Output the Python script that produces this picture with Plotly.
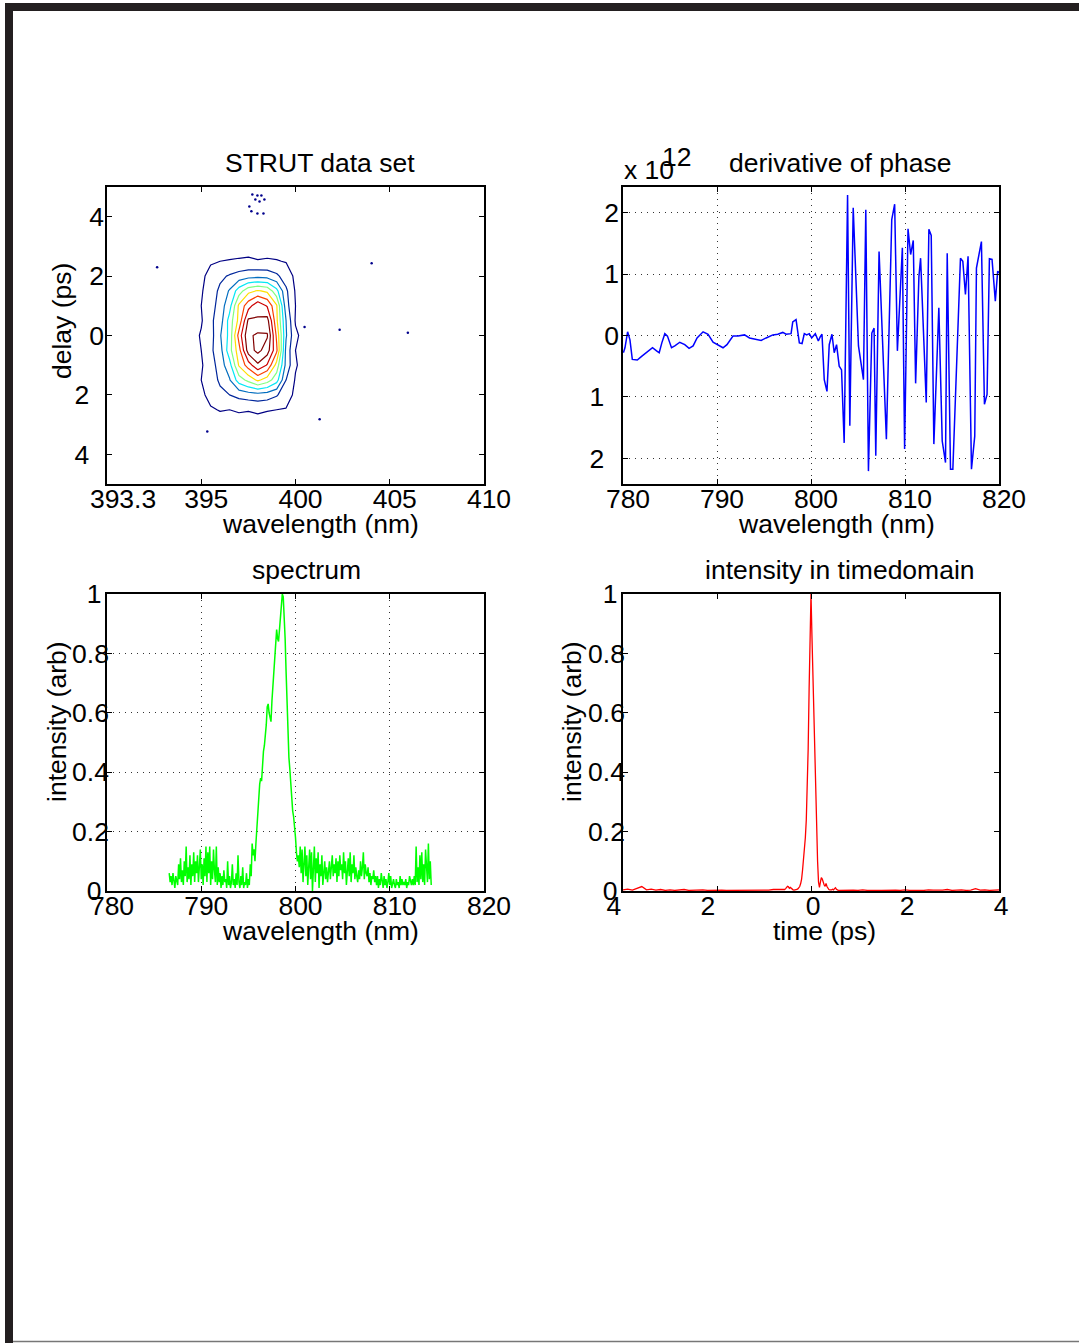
import numpy as np
import plotly.graph_objects as go

W, H = 1079, 1343
FONT = "Liberation Sans, Arial, Helvetica, sans-serif"
FS = 26.5

# ---------------- STRUT trace (contour map) ----------------
strut_wavelength_nm = [394.0, 394.5, 395.0, 395.5, 396.0, 396.5, 397.0, 397.5,
                       398.0, 398.5, 399.0, 399.5, 400.0, 400.5, 401.0]
strut_delay_ps = [3.0, 2.5, 2.0, 1.5, 1.0, 0.5, 0.0, -0.5, -1.0, -1.5, -2.0, -2.5, -3.0]
strut_signal = [
    [0, 0, 0, 0, 0.01, 0.01, 0.01, 0.01, 0.01, 0.01, 0.01, 0, 0, 0, 0],
    [0, 0, 0.01, 0.04, 0.05, 0.055, 0.06, 0.065, 0.055, 0.06, 0.055, 0.045, 0.01, 0, 0],
    [0, 0, 0.03, 0.08, 0.13, 0.16, 0.19, 0.21, 0.22, 0.21, 0.17, 0.10, 0.03, 0, 0],
    [0, 0.01, 0.04, 0.10, 0.17, 0.26, 0.40, 0.52, 0.56, 0.53, 0.38, 0.17, 0.04, 0, 0],
    [0, 0.01, 0.05, 0.10, 0.20, 0.31, 0.57, 0.71, 0.82, 0.74, 0.56, 0.19, 0.05, 0.01, 0],
    [0, 0.02, 0.04, 0.13, 0.20, 0.39, 0.58, 0.87, 0.86, 0.89, 0.57, 0.25, 0.04, 0.01, 0],
    [0, 0.01, 0.06, 0.11, 0.24, 0.38, 0.69, 0.93, 0.97, 0.96, 0.63, 0.26, 0.07, 0.01, 0],
    [0, 0.01, 0.05, 0.13, 0.21, 0.41, 0.61, 0.90, 0.98, 0.90, 0.67, 0.22, 0.05, 0.01, 0],
    [0, 0.02, 0.04, 0.10, 0.20, 0.31, 0.56, 0.70, 0.83, 0.74, 0.51, 0.22, 0.06, 0.01, 0],
    [0, 0.01, 0.05, 0.09, 0.17, 0.24, 0.40, 0.48, 0.57, 0.50, 0.39, 0.15, 0.04, 0, 0],
    [0, 0, 0.03, 0.08, 0.12, 0.15, 0.18, 0.20, 0.21, 0.20, 0.16, 0.09, 0.03, 0, 0],
    [0, 0, 0.01, 0.04, 0.055, 0.05, 0.06, 0.055, 0.065, 0.055, 0.05, 0.045, 0.01, 0, 0],
    [0, 0, 0, 0, 0.01, 0.01, 0.01, 0.01, 0.01, 0.01, 0.01, 0, 0, 0, 0],
]
# isolated noise islands of the lowest contour level
speck_wavelength_nm = [397.71, 397.98, 398.19, 397.87, 398.09, 398.35, 397.66, 397.98,
                       398.30, 397.55, 392.66, 404.04, 401.28, 395.32, 400.48, 402.34, 405.96]
speck_delay_ps = [4.75, 4.71, 4.71, 4.58, 4.51, 4.58, 4.18, 4.11,
                  4.11, 4.34, 2.30, 2.43, -2.82, -3.23, 0.29, 0.19, 0.09]

strut_xticks = [390, 395, 400, 405, 410]
strut_xticktext = ["\u2007\u00a0393.3", "395", "400", "405", "410"]
strut_yticks = [-4, -2, 0, 2, 4]
strut_yticktext = ["4\u2007", "2\u2007", "0", "2", "4"]

# ---------------- derivative of spectral phase ----------------
phase_wavelength_nm = [
    780.04, 780.21, 780.49, 780.74, 780.99, 781.52, 781.98, 782.51, 783.14, 783.57,
    783.85, 784.13, 784.45, 784.73, 785.16, 785.51, 786.04, 786.57, 787.03, 787.46,
    787.88, 788.52, 789.05, 789.58, 790.11, 790.64, 791.06, 791.70, 792.23, 792.93,
    793.46, 794.17, 794.70, 795.23, 795.94, 796.47, 797.00, 797.35, 797.88, 798.06,
    798.41, 798.76, 799.05, 799.29, 799.54, 799.82, 800.07, 800.46, 800.78, 800.99,
    801.17, 801.41, 801.70, 801.94, 802.23, 802.47, 802.72, 803.00, 803.25, 803.53,
    803.89, 804.13, 804.49, 805.05, 805.58, 805.83, 806.11, 806.47, 806.71, 806.89,
    807.24, 808.02, 808.59, 808.90, 809.19, 809.72, 809.96, 810.32, 810.60, 810.88,
    811.13, 811.48, 811.66, 812.26, 812.54, 812.79, 813.07, 813.60, 813.96, 814.31,
    814.49, 814.84, 815.09, 815.90, 816.15, 816.43, 816.71, 817.07, 817.42, 817.60,
    818.13, 818.45, 818.73, 818.98, 819.26, 819.61, 819.86, 820.00,
]
phase_derivative_e12 = [
    -0.28, -0.20, 0.06, -0.07, -0.39, -0.40, -0.34, -0.28, -0.20, -0.25,
    -0.28, -0.12, 0.03, -0.01, -0.20, -0.17, -0.11, -0.15, -0.21, -0.17,
    -0.04, 0.06, 0.02, -0.11, -0.16, -0.20, -0.15, -0.01, -0.01, 0.01,
    -0.04, -0.07, -0.08, -0.04, 0.01, 0.02, 0.05, 0.02, 0.03, 0.22,
    0.26, -0.12, -0.13, 0.03, 0.01, 0.03, -0.04, 0.03, -0.09, -0.02,
    0.02, -0.72, -0.91, -0.15, 0.02, -0.28, -0.15, -0.50, -0.56, -1.75,
    2.29, -1.47, 2.08, -0.17, -0.72, 2.05, -2.21, 0.04, 0.12, -1.96,
    1.37, -1.69, 1.89, 2.14, -0.25, 1.43, -1.85, 1.74, 1.32, 1.55,
    -0.78, 0.96, 1.26, -1.09, 1.73, 1.63, -1.77, 0.45, -1.72, -2.07,
    1.34, -2.18, -2.18, 1.26, 1.21, 0.67, 1.29, -2.18, -1.64, 1.10,
    1.53, -1.12, -0.96, 1.25, 1.24, 0.56, 1.05, 1.02,
]
phase_xticks = [780, 790, 800, 810, 820]
phase_yticks = [-2, -1, 0, 1, 2]
phase_yticktext = ["2\u2007", "1\u2007", "0", "1", "2"]

# ---------------- spectrum (0.1 nm sampling from 786.6 nm) ----------------
spectrum_start_nm = 786.6
spectrum_step_nm = 0.1
spectrum_intensity = [
    0.06, 0.03, 0.05, 0.02, 0.06, 0.04, 0.01, 0.05, 0.03, 0.02,   # 786.6
    0.09, 0.04, 0.11, 0.03, 0.07, 0.02, 0.10, 0.05, 0.15, 0.03,   # 787.6
    0.08, 0.04, 0.12, 0.02, 0.09, 0.05, 0.13, 0.03, 0.10, 0.06,   # 788.6
    0.12, 0.03, 0.08, 0.14, 0.04, 0.09, 0.02, 0.11, 0.05, 0.15,   # 789.6
    0.03, 0.13, 0.06, 0.15, 0.02, 0.10, 0.04, 0.14, 0.07, 0.03,   # 790.6
    0.15, 0.02, 0.08, 0.03, 0.06, 0.01, 0.05, 0.02, 0.07, 0.03,   # 791.6
    0.04, 0.01, 0.10, 0.02, 0.05, 0.01, 0.03, 0.09, 0.02, 0.04,   # 792.6
    0.01, 0.06, 0.02, 0.12, 0.03, 0.01, 0.05, 0.02, 0.08, 0.01,   # 793.6
    0.03, 0.02, 0.06, 0.01, 0.04, 0.02, 0.09, 0.05, 0.16, 0.12,   # 794.6
    0.14, 0.10, 0.16, 0.20, 0.25, 0.31, 0.36, 0.38, 0.37, 0.43,   # 795.6
    0.47, 0.49, 0.52, 0.56, 0.62, 0.63, 0.60, 0.58, 0.57, 0.64,   # 796.6
    0.69, 0.74, 0.79, 0.83, 0.88, 0.85, 0.84, 0.88, 0.93, 0.97,   # 797.6
    1.00, 0.99, 0.93, 0.85, 0.74, 0.62, 0.52, 0.45, 0.41, 0.36,   # 798.6
    0.30, 0.27, 0.25, 0.22, 0.18, 0.13, 0.10, 0.12, 0.08, 0.15,   # 799.6
    0.06, 0.14, 0.03, 0.09, 0.15, 0.05, 0.12, 0.02, 0.10, 0.14,   # 800.6
    0.04, 0.13, 0.00, 0.08, 0.15, 0.03, 0.11, 0.06, 0.13, 0.01,   # 801.6
    0.09, 0.05, 0.12, 0.02, 0.07, 0.10, 0.04, 0.08, 0.03, 0.06,   # 802.6
    0.10, 0.04, 0.08, 0.12, 0.05, 0.09, 0.06, 0.11, 0.03, 0.10,   # 803.6
    0.05, 0.12, 0.07, 0.09, 0.04, 0.13, 0.06, 0.10, 0.02, 0.08,   # 804.6
    0.11, 0.05, 0.13, 0.03, 0.09, 0.06, 0.12, 0.04, 0.08, 0.05,   # 805.6
    0.03, 0.07, 0.04, 0.10, 0.05, 0.08, 0.13, 0.04, 0.09, 0.06,   # 806.6
    0.05, 0.08, 0.03, 0.06, 0.02, 0.05, 0.04, 0.07, 0.03, 0.05,   # 807.6
    0.02, 0.05, 0.01, 0.04, 0.02, 0.06, 0.03, 0.01, 0.05, 0.02,   # 808.6
    0.04, 0.01, 0.03, 0.06, 0.02, 0.05, 0.01, 0.03, 0.04, 0.02,   # 809.6
    0.01, 0.04, 0.02, 0.03, 0.01, 0.05, 0.02, 0.04, 0.02, 0.03,   # 810.6
    0.02, 0.04, 0.01, 0.03, 0.02, 0.05, 0.03, 0.02, 0.04, 0.02,   # 811.6
    0.05, 0.02, 0.15, 0.03, 0.08, 0.02, 0.12, 0.04, 0.13, 0.03,   # 812.6
    0.09, 0.02, 0.14, 0.05, 0.03, 0.16, 0.04, 0.10, 0.02,         # 813.6
]
spectrum_xticks = [780, 790, 800, 810, 820]
intensity_yticks = [0, 0.2, 0.4, 0.6, 0.8, 1]
intensity_yticktext = ["0\u00a0", "0.2", "0.4", "0.6", "0.8", "1\u00a0"]

# ---------------- temporal intensity ----------------
# coarse sampling in the wings, fine sampling across the pulse
time_ps = np.concatenate([np.arange(-40, -6) / 10, np.arange(-30, 31) / 50, np.arange(7, 41) / 10])
time_intensity = [
    0.004, 0.006, 0.003, 0.008, 0.015, 0.004, 0.006, 0.003, 0.005, 0.002,   # -4.0
    0.004, 0.002, 0.003, 0.005, 0.002, 0.003, 0.002, 0.004, 0.002, 0.003,   # -3.0
    0.002, 0.003, 0.002, 0.002, 0.003, 0.002, 0.004, 0.002, 0.003, 0.002,   # -2.0
    0.004, 0.003, 0.005, 0.004,                                             # -1.0
    0.003, 0.004, 0.005, 0.008, 0.012, 0.016, 0.014, 0.009, 0.012, 0.008,   # -0.60
    0.005, 0.004, 0.003, 0.003, 0.004, 0.005, 0.007, 0.010, 0.015, 0.025,   # -0.40
    0.04, 0.07, 0.10, 0.14, 0.18, 0.24, 0.34, 0.48, 0.68, 0.87,             # -0.20
    1.00, 0.86, 0.72, 0.57, 0.43, 0.30, 0.20, 0.10, 0.03, 0.012,            # 0.00
    0.03, 0.045, 0.04, 0.026, 0.02, 0.016, 0.025, 0.015, 0.008, 0.005,      # 0.20
    0.004, 0.003, 0.004, 0.006, 0.004, 0.008, 0.011, 0.006, 0.003, 0.002,   # 0.40
    0.002,                                                                  # 0.60
    0.003, 0.002, 0.003, 0.002, 0.004, 0.002, 0.003, 0.002, 0.002, 0.003,   # 0.7
    0.002, 0.003, 0.002, 0.004, 0.002, 0.003, 0.002, 0.002, 0.004, 0.003,   # 1.7
    0.002, 0.003, 0.005, 0.002, 0.003, 0.004, 0.002, 0.003, 0.008, 0.003,   # 2.7
    0.004, 0.002, 0.003, 0.004,                                             # 3.7
]
time_xticks = [-4, -2, 0, 2, 4]
time_xticktext = ["4\u2007\u00a0", "2\u2007\u00a0", "0", "2", "4"]

spectrum_wavelength_nm = np.round(spectrum_start_nm + spectrum_step_nm * np.arange(len(spectrum_intensity)), 2)

# ---------------- figure ----------------
fig = go.Figure()

fig.add_trace(go.Contour(
    x=strut_wavelength_nm, y=strut_delay_ps[::-1], z=strut_signal[::-1],
    colorscale="Jet", zauto=False, zmin=0.05, zmax=0.95,
    contours=dict(coloring="lines", start=0.05, end=0.95, size=0.1),
    line=dict(width=1.2, smoothing=0), showscale=False,
    xaxis="x", yaxis="y",
))
fig.add_trace(go.Scatter(
    x=speck_wavelength_nm, y=speck_delay_ps, mode="markers",
    marker=dict(size=2.5, color="rgb(0,0,140)"), xaxis="x", yaxis="y",
))
fig.add_trace(go.Scatter(
    x=phase_wavelength_nm, y=phase_derivative_e12, mode="lines",
    line=dict(color="rgb(0,0,255)", width=1.5), xaxis="x2", yaxis="y2",
))
fig.add_trace(go.Scatter(
    x=spectrum_wavelength_nm, y=spectrum_intensity, mode="lines",
    line=dict(color="rgb(0,255,0)", width=1.5), xaxis="x3", yaxis="y3",
))
fig.add_trace(go.Scatter(
    x=time_ps, y=time_intensity, mode="lines",
    line=dict(color="rgb(255,0,0)", width=1.3), xaxis="x4", yaxis="y4",
))


def px(x):
    return x / W


def py(y):
    return 1 - y / H


# plot boxes in pixels: (left, right, top, bottom)
boxes = {
    1: (107, 484, 187, 484),
    2: (623, 999, 187, 484),
    3: (107, 484, 594, 891),
    4: (623, 999, 594, 891),
}

axis_common = dict(
    showline=True, linecolor="black", linewidth=1.5, mirror="ticks",
    ticks="inside", ticklen=5, tickwidth=1, tickcolor="black",
    tickfont=dict(family=FONT, size=FS, color="black"),
    zeroline=False, showgrid=False, fixedrange=True, automargin=False,
)
grid_style = dict(showgrid=True, gridcolor="rgba(0,0,0,0.8)", griddash="1px,5px", gridwidth=1)
XSTAND = -10


def xdom(k):
    l, r, t, b = boxes[k]
    return [px(l), px(r)]


def ydom(k):
    l, r, t, b = boxes[k]
    return [py(b), py(t)]


layout = dict(
    width=W, height=H, margin=dict(l=0, r=0, t=0, b=0, pad=0, autoexpand=False),
    paper_bgcolor="white", plot_bgcolor="white", showlegend=False,
    font=dict(family=FONT, size=FS, color="black"),
)
layout["xaxis"] = dict(axis_common, domain=xdom(1), anchor="y", range=[390, 410],
                       tickvals=strut_xticks, ticktext=strut_xticktext, ticklabelshift=5,
                       ticklabelstandoff=XSTAND)
layout["yaxis"] = dict(axis_common, domain=ydom(1), anchor="x", range=[-5, 5],
                       tickvals=strut_yticks, ticktext=strut_yticktext, ticklabelstandoff=-4)
layout["xaxis2"] = dict(axis_common, **grid_style, domain=xdom(2), anchor="y2", range=[780, 820],
                        tickvals=phase_xticks, ticklabelshift=5, ticklabelstandoff=XSTAND)
layout["yaxis2"] = dict(axis_common, **grid_style, domain=ydom(2), anchor="x2", range=[-2.42, 2.42],
                        tickvals=phase_yticks, ticktext=phase_yticktext, ticklabelstandoff=-3)
layout["xaxis3"] = dict(axis_common, **grid_style, domain=xdom(3), anchor="y3", range=[780, 820],
                        tickvals=spectrum_xticks, ticklabelshift=5, ticklabelstandoff=XSTAND)
layout["yaxis3"] = dict(axis_common, **grid_style, domain=ydom(3), anchor="x3", range=[0, 1],
                        tickvals=intensity_yticks, ticktext=intensity_yticktext, ticklabelstandoff=-9)
layout["xaxis4"] = dict(axis_common, domain=xdom(4), anchor="y4", range=[-4, 4],
                        tickvals=time_xticks, ticktext=time_xticktext, ticklabelshift=2,
                        ticklabelstandoff=XSTAND)
layout["yaxis4"] = dict(axis_common, domain=ydom(4), anchor="x4", range=[0, 1],
                        tickvals=intensity_yticks, ticktext=intensity_yticktext, ticklabelstandoff=-9)
fig.update_layout(**layout)

# titles and axis labels
texts = [
    ("STRUT data set", 320, 163, 0),
    ("derivative of phase", 840, 163, 0),
    ("spectrum", 306, 570, 0),
    ("intensity in timedomain", 840, 570, 0),
    ("wavelength (nm)", 320, 524, 0),
    ("wavelength (nm)", 836, 524, 0),
    ("wavelength (nm)", 320, 931, 0),
    ("time (ps)", 824, 931, 0),
    ("delay (ps)", 62, 321, -90),
    ("intensity (arb)", 57, 722, -90),
    ("intensity (arb)", 572, 722, -90),
]
for txt, x, y, ang in texts:
    fig.add_annotation(text=txt, x=px(x), y=py(y), xref="paper", yref="paper",
                       xanchor="center", yanchor="middle", showarrow=False, textangle=ang,
                       font=dict(family=FONT, size=FS, color="black"))

# exponent label of the phase axis
fig.add_annotation(text="x 10", x=px(622), y=py(170), xref="paper", yref="paper",
                   xanchor="left", yanchor="middle", showarrow=False,
                   font=dict(family=FONT, size=FS, color="black"))
fig.add_annotation(text="12", x=px(660), y=py(157), xref="paper", yref="paper",
                   xanchor="left", yanchor="middle", showarrow=False,
                   font=dict(family=FONT, size=FS, color="black"))

# page frame
frame_color = "#231f20"
fig.add_shape(type="rect", xref="paper", yref="paper", x0=px(5), x1=px(13), y0=py(1343), y1=py(3),
              fillcolor=frame_color, line=dict(width=0), layer="above")
fig.add_shape(type="rect", xref="paper", yref="paper", x0=px(5), x1=px(1079), y0=py(11), y1=py(3),
              fillcolor=frame_color, line=dict(width=0), layer="above")
fig.add_shape(type="line", xref="paper", yref="paper", x0=px(13), x1=px(1079), y0=py(1341.5), y1=py(1341.5),
              line=dict(color="#777777", width=1.5), layer="above")

fig.write_html("out.html")
